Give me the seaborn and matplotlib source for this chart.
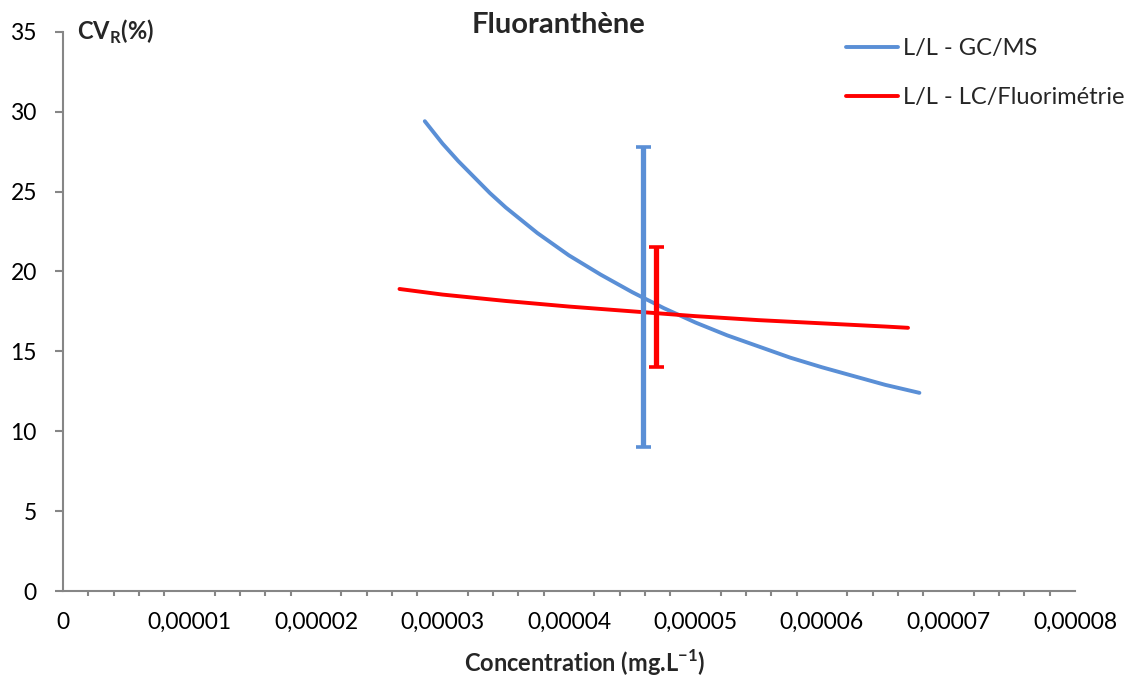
import numpy as np
import pandas as pd
import matplotlib
matplotlib.use("Agg")
import matplotlib.pyplot as plt
from matplotlib.ticker import MultipleLocator
from matplotlib.lines import Line2D
import seaborn as sns

# ---- data ----
gcms_conc = [2.86e-5, 3.0e-5, 3.125e-5, 3.25e-5, 3.375e-5, 3.5e-5, 3.625e-5, 3.75e-5,
             3.875e-5, 4.0e-5, 4.25e-5, 4.5e-5, 4.75e-5, 5.0e-5, 5.25e-5, 5.5e-5,
             5.75e-5, 6.0e-5, 6.25e-5, 6.5e-5, 6.77e-5]
gcms_cv = [29.4, 28.0, 26.9, 25.9, 24.9, 24.0, 23.2, 22.4, 21.7, 21.0, 19.8, 18.7,
           17.7, 16.8, 16.0, 15.3, 14.6, 14.0, 13.45, 12.9, 12.4]

lcfl_conc = [2.66e-5, 3.0e-5, 3.5e-5, 4.0e-5, 4.5e-5, 5.0e-5, 5.5e-5, 6.0e-5, 6.5e-5, 6.68e-5]
lcfl_cv = [18.9, 18.55, 18.15, 17.8, 17.5, 17.2, 16.95, 16.75, 16.55, 16.47]

series_names = ["L/L - GC/MS", "L/L - LC/Fluorimétrie"]
series_colors = ["#5A8FD6", "#FF0000"]

errbar_x = [4.585e-5, 4.69e-5]
errbar_low = [9.0, 14.0]
errbar_high = [27.8, 21.5]

x_ticks = [0, 1e-5, 2e-5, 3e-5, 4e-5, 5e-5, 6e-5, 7e-5, 8e-5]
x_tick_labels = ["0", "0,00001", "0,00002", "0,00003", "0,00004",
                 "0,00005", "0,00006", "0,00007", "0,00008"]
y_ticks = [0, 5, 10, 15, 20, 25, 30, 35]

title = "Fluoranthène"

# ---- styling ----
sns.set_theme(style="white")
plt.rcParams["font.family"] = ["Lato", "DejaVu Sans"]
plt.rcParams["mathtext.fontset"] = "custom"
plt.rcParams["mathtext.rm"] = "Lato"
plt.rcParams["mathtext.bf"] = "Lato:bold"

W, H = 1124, 679
fig = plt.figure(figsize=(W / 100, H / 100), dpi=100)
fig.patch.set_facecolor("white")
ax = fig.add_axes([63 / W, 1 - 591 / H, (1075 - 63) / W, (591 - 31.7) / H])

df = pd.concat([
    pd.DataFrame({"conc": gcms_conc, "cv": gcms_cv, "serie": series_names[0]}),
    pd.DataFrame({"conc": lcfl_conc, "cv": lcfl_cv, "serie": series_names[1]}),
], ignore_index=True)

sns.lineplot(data=df, x="conc", y="cv", hue="serie", palette=series_colors,
             estimator=None, sort=False, linewidth=2.8, ax=ax, legend=False)
for ln in ax.lines:
    ln.set_solid_capstyle("round")

for xv, lo, hi, col in zip(errbar_x, errbar_low, errbar_high, series_colors):
    ax.errorbar([xv], [(lo + hi) / 2], yerr=[[(hi - lo) / 2], [(hi - lo) / 2]],
                fmt="none", ecolor=col, elinewidth=3.8, capsize=5.4, capthick=2.6,
                zorder=3)

ax.set_xlim(0, 8e-5)
ax.set_ylim(0, 35)
ax.set_xticks(x_ticks, labels=x_tick_labels)
ax.set_yticks(y_ticks)
ax.xaxis.set_minor_locator(MultipleLocator(2e-6))
ax.set_xlabel("")
ax.set_ylabel("")

for s in ["top", "right"]:
    ax.spines[s].set_visible(False)
for s in ["left", "bottom"]:
    ax.spines[s].set_color("#868686")
    ax.spines[s].set_linewidth(1.5)

ax.tick_params(axis="x", which="major", direction="out", length=6, width=1.5,
               color="#868686", labelsize=16.5, pad=9, labelcolor="black")
ax.tick_params(axis="x", which="minor", direction="out", length=3.6, width=1.5,
               color="#868686", bottom=True)
ax.tick_params(axis="y", which="major", direction="out", length=6, width=1.5,
               color="#868686", labelsize=16.5, pad=12.8, labelcolor="black", left=True)

# legend
handles = [Line2D([], [], color=c, lw=2.8) for c in series_colors]
fig.legend(handles, series_names, loc="upper left",
           bbox_to_anchor=(846 / W, 1 - 38 / H), frameon=False, fontsize=17,
           handlelength=2.2, handletextpad=0.2, labelspacing=1.2, borderpad=0,
           borderaxespad=0)

fig.text(559 / W, 1 - 25 / H, title, ha="center", va="center",
         fontsize=21, fontweight="bold")
fig.text(77 / W, 1 - 32 / H, r"CV$_{\mathbf{R}}$(%)", ha="left", va="center",
         fontsize=17, fontweight="bold")
fig.text(585 / W, 1 - 663 / H, r"Concentration (mg.L$^{\mathbf{-1}}$)",
         ha="center", va="center", fontsize=17, fontweight="bold")

fig.savefig("out.png", dpi=100, facecolor="white")
